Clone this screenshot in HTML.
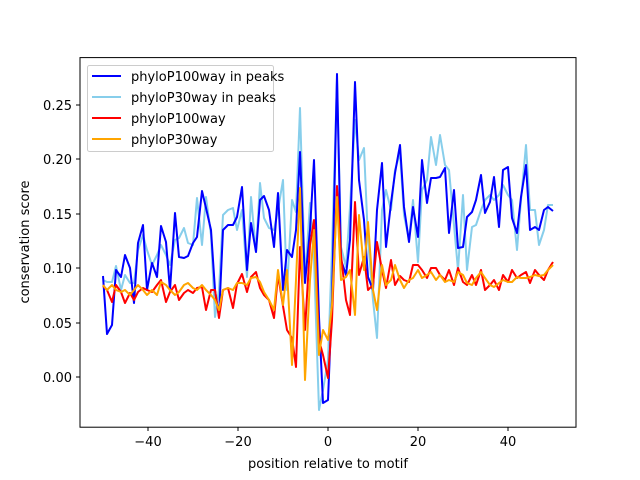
<!DOCTYPE html>
<html><head><meta charset="utf-8"><style>
body{margin:0;background:#fff}
svg{display:block}
text{font-family:"DejaVu Sans","Liberation Sans",sans-serif;font-size:13px;fill:#000}
</style></head><body>
<svg width="640" height="480" viewBox="0 0 640 480">
<rect width="640" height="480" fill="#fff"/>
<g fill="none" stroke-width="2" stroke-linejoin="round">
<polyline stroke="#87ceeb" points="103,280 107,282 112,282 116,266 121,290 125,275 130,283 134,283 138,250 143,235 147,250 152,265 157,255 161,245 166,255 170,265 175,240 179,238 184,228 188,243 193,245 197,198 202,245 206,197 211,235 215,317 219,290 223,215 228,210 233,208 237,230 242,210 247,277 251,197 256,252 260,183 264,218 269,228 274,230 278,210 283,180 287,290 292,200 296,212 300,108 305,280 310,203 314,260 319,410 323,390 328,360 332,250 337,80 341,247 346,267 350,207 355,120 359,160 364,148 368,240 373,300 377,338 382,210 386,190 391,210 395,170 400,153 404,215 409,240 413,200 418,262 422,190 427,180 431,137 436,165 440,135 445,165 449,170 454,225 458,270 463,195 467,270 472,227 476,225 481,210 485,200 490,195 494,200 499,195 503,185 508,195 512,200 517,250 521,200 526,145 530,210 535,210 539,245 544,230 548,205 553,205"/>
<polyline stroke="#0000ff" points="103,276 107,334 112,325 116,270 121,277 125,255 130,268 134,303 138,243 143,225 147,290 152,263 157,277 161,226 166,242 170,290 175,213 179,257 184,258 188,256 193,243 197,237 202,191 206,208 211,230 215,290 219,317 223,230 228,225 233,225 237,217 242,187 247,270 251,223 256,252 260,200 264,196 269,210 274,247 278,193 283,290 287,250 292,257 296,230 300,152 305,283 310,230 314,160 319,317 323,403 328,400 332,300 337,74 341,260 346,275 350,240 355,82 359,180 364,220 368,277 373,290 377,210 382,163 386,247 391,203 395,173 400,145 404,207 409,242 413,207 418,237 422,160 427,203 431,178 436,178 440,177 445,168 449,233 454,190 458,248 463,247 467,217 472,212 476,200 481,175 485,213 490,202 494,177 499,227 503,170 508,167 512,218 517,233 521,197 526,165 530,230 535,227 539,230 544,210 548,207 553,211"/>
<polyline stroke="#ff0000" points="103,286 107,290 112,302 116,285 121,292 125,303 130,293 134,300 138,292 143,288 147,290 152,292 157,285 161,280 166,302 170,292 175,285 179,300 184,293 188,290 193,293 197,288 202,287 206,310 211,290 215,290 219,318 223,290 228,288 233,308 237,284 242,274 247,292 251,277 256,272 260,288 264,295 269,300 274,318 278,275 283,306 287,330 292,338 296,367 300,247 305,330 310,245 314,220 319,340 323,355 328,378 332,320 337,186 341,255 346,300 350,315 355,202 359,275 364,257 368,290 373,285 377,242 382,270 386,288 391,260 395,285 400,276 404,280 409,282 413,265 418,265 422,270 427,278 431,268 436,268 440,275 445,280 449,270 454,285 458,268 463,282 467,285 472,275 476,285 481,270 485,290 490,285 494,280 499,290 503,275 508,282 512,270 517,278 521,275 526,272 530,283 535,270 539,275 544,280 548,270 553,262"/>
<polyline stroke="#ffa500" points="103,285 107,290 112,285 116,290 121,292 125,290 130,295 134,290 138,285 143,290 147,295 152,290 157,295 161,282 166,285 170,290 175,295 179,292 184,285 188,283 193,288 197,290 202,285 206,290 211,295 215,300 219,310 223,290 228,288 233,290 237,283 242,283 247,285 251,278 256,277 260,282 264,292 269,300 274,310 278,270 283,305 287,270 292,365 296,280 300,188 305,380 310,280 314,230 319,355 323,330 328,340 332,305 337,197 341,280 346,277 350,270 355,315 359,215 364,270 368,222 373,290 377,310 382,265 386,285 391,280 395,265 400,280 404,288 409,280 413,278 418,270 422,278 427,275 431,272 436,280 440,275 445,282 449,280 454,282 458,272 463,275 467,283 472,285 476,278 481,272 485,278 490,285 494,287 499,283 503,280 508,282 512,282 517,277 521,278 526,278 530,277 535,275 539,276 544,275 548,270 553,265"/>
</g>
<rect x="80" y="57.6" width="496" height="369.6" fill="none" stroke="#000" stroke-width="1"/>
<g stroke="#000" stroke-width="1">
<line x1="148" y1="427" x2="148" y2="431"/><line x1="238" y1="427" x2="238" y2="431"/><line x1="328" y1="427" x2="328" y2="431"/><line x1="418" y1="427" x2="418" y2="431"/><line x1="508" y1="427" x2="508" y2="431"/>
<line x1="76" y1="377" x2="80" y2="377"/><line x1="76" y1="323" x2="80" y2="323"/><line x1="76" y1="268" x2="80" y2="268"/><line x1="76" y1="214" x2="80" y2="214"/><line x1="76" y1="159" x2="80" y2="159"/><line x1="76" y1="105" x2="80" y2="105"/>
</g>
<g text-anchor="middle">
<text x="148" y="446">−40</text><text x="238" y="446">−20</text><text x="328" y="446">0</text><text x="418" y="446">20</text><text x="508" y="446">40</text>
<text x="328" y="468">position relative to motif</text>
<text transform="translate(29,242) rotate(-90)">conservation score</text>
</g>
<g text-anchor="end">
<text x="72" y="382">0.00</text><text x="72" y="328">0.05</text><text x="72" y="273">0.10</text><text x="72" y="219">0.15</text><text x="72" y="164">0.20</text><text x="72" y="110">0.25</text>
</g>
<rect x="87.5" y="65.5" width="186" height="86" rx="2" fill="#fff" fill-opacity="0.8" stroke="#ccc"/>
<g stroke-width="2">
<line x1="92" y1="76" x2="121" y2="76" stroke="#0000ff"/>
<line x1="92" y1="97" x2="121" y2="97" stroke="#87ceeb"/>
<line x1="92" y1="118" x2="121" y2="118" stroke="#ff0000"/>
<line x1="92" y1="139" x2="121" y2="139" stroke="#ffa500"/>
</g>
<text x="131" y="81">phyloP100way in peaks</text>
<text x="131" y="102">phyloP30way in peaks</text>
<text x="131" y="123">phyloP100way</text>
<text x="131" y="144">phyloP30way</text>
</svg>
</body></html>
